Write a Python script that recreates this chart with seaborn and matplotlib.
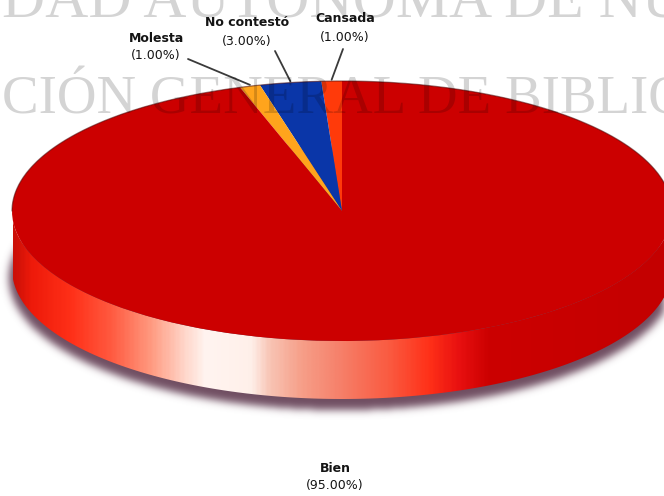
import numpy as np
import matplotlib
matplotlib.use("Agg")
import matplotlib.pyplot as plt
from matplotlib.patches import Polygon
from matplotlib.colors import LinearSegmentedColormap
import seaborn as sns

# ---- data -------------------------------------------------------------
categories = ["Cansada", "No contestó", "Molesta", "Bien"]
percentages = [1.0, 3.0, 1.0, 95.0]
slice_colors = ["#ff3a0a", "#0a36a8", "#ffa41c", "#cc0000"]
label_text = [f"({p:.2f}%)" for p in percentages]

# ---- geometry of the tilted pie (pixels) --------------------------------
W, H = 664, 496
CX, CY = 342, 211          # centre of the top face
RX, RY = 330, 130          # radii of the top face
DEPTH = 58                 # thickness of the disc

sns.set_theme(style="white")
palette = sns.color_palette(slice_colors)

fig = plt.figure(figsize=(W / 100, H / 100), dpi=100)
ax = fig.add_axes([0, 0, 1, 1])

# data units: the pie has radius 1; the axes stretch it into an ellipse
X0, X1 = -CX / RX, (W - CX) / RX
Y0, Y1 = -(H - CY) / RY, CY / RY
depth = DEPTH / RY


def to_data(x, y):
    return (x - CX) / RX, (CY - y) / RY


def to_fig(x, y):
    return x / W, 1 - y / H


# ---- soft shadow under the disc ----------------------------------------
gx, gy = np.meshgrid(np.arange(W) + 0.5, np.arange(H) + 0.5)
mask = (((gx - CX) / (RX + 3)) ** 2 + ((gy - (CY + DEPTH + 9)) / (RY + 2)) ** 2 <= 1).astype(float)
sig = 4.0
k = np.exp(-0.5 * (np.arange(-14, 15) / sig) ** 2)
k /= k.sum()
blur = np.apply_along_axis(lambda r: np.convolve(r, k, mode="same"), 1, mask)
blur = np.apply_along_axis(lambda c: np.convolve(c, k, mode="same"), 0, blur)
shadow = np.zeros((H, W, 4))
shadow[..., 0], shadow[..., 1], shadow[..., 2] = 0.41, 0.27, 0.35
shadow[..., 3] = 0.95 * blur
ax.imshow(shadow, extent=(X0, X1, Y0, Y1), origin="upper", zorder=0,
          interpolation="bilinear", aspect="auto")

# ---- top face ------------------------------------------------------------
wedges, _ = ax.pie(percentages, colors=palette, startangle=90, counterclock=True,
                   radius=1, center=(0, 0), wedgeprops=dict(linewidth=0))
for w in wedges:
    w.set_zorder(3)

# ---- side band of each slice that faces the viewer ------------------------
side_stops = [(13, "#cc1008"), (30, "#ee1a0a"), (70, "#ff3018"), (110, "#ff5a40"),
              (150, "#ff9a80"), (185, "#ffd8cc"), (205, "#fff4f0"), (250, "#fff0ea"),
              (270, "#f8c4b4"), (300, "#f6a08a"), (340, "#f6806a"), (390, "#fa5a40"),
              (430, "#ff3018"), (460, "#e81010"), (490, "#cc0000"), (664, "#c40000")]
pos = [(p - 13) / (664 - 13) for p, _ in side_stops]
side_cmap = LinearSegmentedColormap.from_list("side", list(zip(pos, [c for _, c in side_stops])))

for w in wedges:
    t1, t2 = w.theta1, w.theta2
    for lo_f, hi_f in ((180, 360), (540, 720)):
        lo, hi = max(t1, lo_f), min(t2, hi_f)
        if hi <= lo:
            continue
        th = np.radians(np.linspace(lo, hi, 200))
        top = np.column_stack([np.cos(th), np.sin(th)])
        bot = np.column_stack([np.cos(th[::-1]), np.sin(th[::-1]) - depth])
        poly = Polygon(np.vstack([top, bot]), closed=True, facecolor="none",
                       edgecolor="none", transform=ax.transData)
        ax.add_patch(poly)
        xs = np.linspace(13, 664, 400)[None, :]
        im = ax.imshow(xs, cmap=side_cmap, vmin=13, vmax=664,
                       extent=(to_data(13, 0)[0], X1, -1 - depth, 0.2),
                       aspect="auto", zorder=2, interpolation="bilinear")
        im.set_clip_path(poly)

# thin dark rim along the back edge
th = np.radians(np.linspace(0, 180, 300))
ax.plot(np.cos(th), np.sin(th), color="#4a0808", lw=0.9, alpha=0.55, zorder=4)

ax.set_xlim(X0, X1)
ax.set_ylim(Y0, Y1)
ax.set_aspect("auto")
ax.set_axis_off()

# ---- labels and leader lines ---------------------------------------------
name_pos = {"Cansada": (345, 19), "No contestó": (247, 23), "Molesta": (156, 38), "Bien": (335, 468)}
line_start = {"Cansada": (343, 49), "No contestó": (275, 51), "Molesta": (188, 59)}

for w, cat, txt in zip(wedges, categories, label_text):
    nx, ny = name_pos[cat]
    fx, fy = to_fig(nx, ny)
    fig.text(fx, fy, cat, ha="center", va="center", fontsize=9,
             fontweight="bold", color="#141414", family="DejaVu Sans", zorder=6)
    fx, fy = to_fig(nx, ny + 18)
    fig.text(fx, fy, txt, ha="center", va="center", fontsize=9,
             color="#141414", family="DejaVu Sans", zorder=6)
    if cat in line_start:
        mid = np.radians((w.theta1 + w.theta2) / 2)
        sx, sy = to_data(*line_start[cat])
        ax.plot([sx, np.cos(mid)], [sy, np.sin(mid) + 0.01], color="#3a3a3a",
                lw=1.3, zorder=5, solid_capstyle="round")

# ---- background watermark ------------------------------------------------
watermark_rows = [
    ("DAD AUTÓNOMA DE NUEVO LEÓN", 2, 17, 43),
    ("CIÓN GENERAL DE BIBLIOTECAS", 2, 114, 39.5),
]
for text, wx, base, size in watermark_rows:
    fx, fy = to_fig(wx, base)
    fig.text(fx, fy, text, ha="left", va="baseline", fontsize=size,
             family="Liberation Serif", color="black", alpha=0.17, zorder=5)

fig.savefig("out.png", dpi=100)
